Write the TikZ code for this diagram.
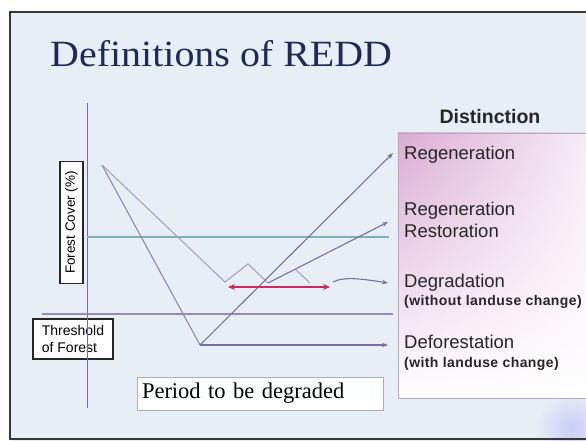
\documentclass[tikz,border=0pt]{standalone}
\usepackage{fontspec}
\setmainfont{Liberation Serif}
\setsansfont{Liberation Sans}
\newfontfamily\subfont[LetterSpace=3]{Liberation Sans}
\usetikzlibrary{arrows.meta,fadings}
\definecolor{bgblue}{HTML}{E8EEF6}
\definecolor{framegray}{HTML}{383838}
\definecolor{titlenavy}{HTML}{1E2A58}
\definecolor{axispurple}{HTML}{7A68A8}
\definecolor{linegray}{HTML}{9088AC}
\definecolor{zigzag}{HTML}{A8A0BC}
\definecolor{diagpurple}{HTML}{7C6EA4}
\definecolor{tealline}{HTML}{7FB0B6}
\definecolor{thrpurple}{HTML}{9A88BC}
\definecolor{redarrow}{HTML}{CC2A5C}
\definecolor{pinkbox}{HTML}{DBACD4}
\definecolor{boxedge}{HTML}{B4AABC}
\tikzfading[name=pinkfade, left color=transparent!0, right color=transparent!80]
\begin{document}
\begin{tikzpicture}[x=1pt,y=-1pt,
  lbl/.style={font=\sffamily\fontsize{18.5}{21}\selectfont, anchor=base west, inner sep=0pt, text=black!85},
  sublbl/.style={font=\subfont\bfseries\fontsize{14}{16}\selectfont, anchor=base west, inner sep=0pt, text=black!85},
  ln/.style={line width=1.1pt, draw=linegray},
  arr/.style={-{Stealth[length=6pt,width=4.5pt]}},
  blackbox/.style={draw=black!85, line width=1.3pt, fill=white!96!bgblue, inner sep=0pt},
]
\useasboundingbox (0,0) rectangle (586,441);
\fill[white] (0,0) rectangle (586,441);
\fill[bgblue] (10,12) rectangle (586,441);
\shade[inner color=blue!14!bgblue, outer color=bgblue] (572,428) circle (36);
\fill[bgblue] (0,441) rectangle (586,445);
\draw[framegray, line width=2pt] (590,12) -- (10,12) -- (10,439) -- (590,439);

% title
\node[anchor=base west, inner sep=0pt, text=titlenavy, font=\fontsize{37}{40}\selectfont] (title) at (50,67) {\scalebox{1.08}[1]{Definitions of REDD}};

% distinction box
\fill[white] (398,133) rectangle (592,398);
\shade[top color=pinkbox, middle color=pinkbox!45!white, bottom color=white, path fading=pinkfade] (398,133) rectangle (592,398);
\draw[boxedge, line width=0.8pt] (592,133) -- (398,133) -- (398,398) -- (592,398);
\node[anchor=base, inner sep=0pt, font=\sffamily\bfseries\fontsize{19.5}{22}\selectfont, text=black!85] (dist) at (490,124) {Distinction};

\node[lbl] (regen) at (404,160) {Regeneration};
\node[lbl] (regen2) at (404,215) {Regeneration};
\node[lbl] (resto) at (404,237) {Restoration};
\node[lbl] (degr) at (404,287) {Degradation};
\node[sublbl] (degrsub) at (404,305) {(without landuse change)};
\node[lbl] (defo) at (404,348) {Deforestation};
\node[sublbl] (defosub) at (404,367) {(with landuse change)};

% boxes at left
\node[blackbox, rotate=90, minimum width=122pt, minimum height=23pt, font=\sffamily\fontsize{13.5}{15}\selectfont] (fc) at (71.5,222.5) {Forest Cover (\%)};
\node[blackbox, minimum width=80pt, minimum height=40pt, align=left, font=\sffamily\fontsize{14}{17}\selectfont] (thr) at (73,339) {Threshold\\of Forest};
\node[draw=boxedge, line width=0.8pt, fill=white!92!bgblue, minimum height=33pt, text width=236pt, inner xsep=5pt, inner ysep=0pt, align=left, font=\fontsize{22.5}{25}\selectfont] (period) at (260,393.5) {Period to be degraded};

% axis and horizontal lines
\coordinate (axtop) at (87,103);
\coordinate (axbot) at (87,408);
\draw[axispurple, line width=1pt] (axtop) -- (axbot);
\coordinate (tl) at (87,237);
\coordinate (tr) at (389,237);
\draw[tealline, line width=1.1pt] (tl) -- (tr);
\coordinate (thl) at (42,314);
\coordinate (thr2) at (393,314);
\draw[thrpurple, line width=1.1pt] (thl) -- (thr2);

% curves
\coordinate (s) at (102,165);
\coordinate (v) at (200,345);
\coordinate (z1) at (225,282);
\coordinate (z2) at (248,264);
\coordinate (z3) at (268,283);
\coordinate (z4) at (295,269);
\coordinate (z5) at (310,283);
\draw[ln] (s) -- (v);
\draw[ln, draw=zigzag] (s) -- (z1) -- (z2) -- (z3);
\draw[ln, draw=zigzag] (z4) -- (z5);

\coordinate (tipregen) at (393,153);
\coordinate (tipresto) at (388,222);
\coordinate (tipdegr) at (388,283);
\coordinate (tipdefo) at (388,345);
\draw[ln, draw=diagpurple, arr] (v) -- (tipregen);
\draw[ln, draw=diagpurple, arr] (z3) -- (tipresto);
\draw[ln, draw=diagpurple, arr] (v) -- (tipdefo);

\coordinate (ra) at (228,287);
\coordinate (rb) at (330,287);
\draw[redarrow, line width=1.8pt, {Stealth[length=7pt,width=6pt]}-{Stealth[length=7pt,width=6pt]}] (ra) -- (rb);
\coordinate (dstart) at (333,282);
\draw[ln, draw=diagpurple, arr] (dstart) .. controls (342,277) and (358,278) .. (tipdegr);
\end{tikzpicture}
\end{document}
